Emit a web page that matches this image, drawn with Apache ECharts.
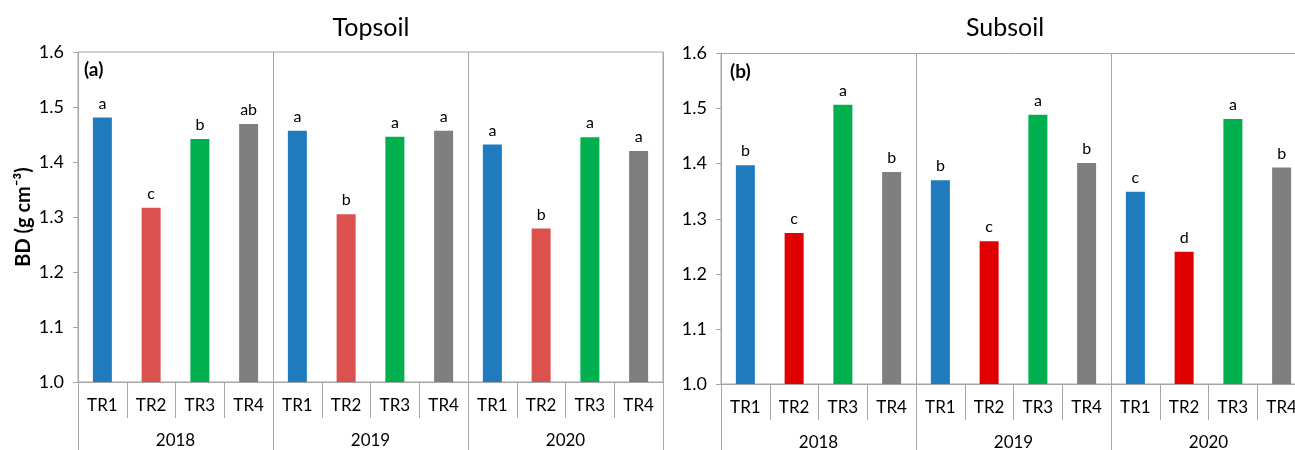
<!DOCTYPE html>
<html>
<head>
<meta charset="utf-8">
<script src="https://cdn.jsdelivr.net/npm/echarts@6/dist/echarts.min.js"></script>
<style>html,body{margin:0;padding:0;background:#fff}#c{width:1295px;height:450px}</style>
</head>
<body>
<div id="c"></div>
<script>
const treatments = ['TR1', 'TR2', 'TR3', 'TR4'];
const years = ['2018', '2019', '2020'];
const topsoil = [1.481, 1.317, 1.442, 1.469, 1.457, 1.305, 1.446, 1.457, 1.432, 1.279, 1.445, 1.420];
const subsoil = [1.397, 1.274, 1.507, 1.385, 1.370, 1.259, 1.489, 1.401, 1.349, 1.240, 1.481, 1.393];
const topLetters = ['a', 'c', 'b', 'ab', 'a', 'b', 'a', 'a', 'a', 'b', 'a', 'a'];
const subLetters = ['b', 'c', 'a', 'b', 'b', 'c', 'a', 'b', 'c', 'd', 'a', 'b'];
const yTicks = [1.0, 1.1, 1.2, 1.3, 1.4, 1.5, 1.6];

const topColors = ['#1F7BBD', '#DA514D', '#00B04F', '#7F7F7F'];
const subColors = ['#1F7BBD', '#E00000', '#00B04F', '#7F7F7F'];
const FONT = 'Lato';
const lineColor = '#A6A6A6';

const cats = [];
years.forEach(() => treatments.forEach(t => cats.push(t)));

function xAxes(grid) {
  return [
    {
      type: 'category', gridIndex: grid, data: cats, position: 'bottom',
      axisLine: {show: true, lineStyle: {color: lineColor}},
      axisTick: {show: true, length: 36, interval: 0, lineStyle: {color: lineColor}},
      axisLabel: {interval: 0, margin: 15, color: '#000', fontFamily: FONT, fontSize: 17},
      splitLine: {show: false}
    },
    {
      type: 'category', gridIndex: grid, data: years, position: 'bottom',
      axisLine: {show: false},
      axisTick: {show: true, length: 80, interval: 0, lineStyle: {color: lineColor}},
      axisLabel: {interval: 0, margin: 50, color: '#000', fontFamily: FONT, fontSize: 17},
      splitLine: {show: true, interval: 0, lineStyle: {color: lineColor}}
    }
  ];
}

function yAxis(grid, withName) {
  const a = {
    type: 'value', gridIndex: grid, min: yTicks[0], max: yTicks[yTicks.length - 1], interval: 0.1,
    axisLine: {show: true, lineStyle: {color: lineColor}},
    axisTick: {show: true, length: 5, lineStyle: {color: lineColor}},
    axisLabel: {margin: 14, color: '#000', fontFamily: FONT, fontSize: 18,
      formatter: v => v.toFixed(1)},
    splitLine: {show: false}
  };
  if (withName) {
    a.name = 'BD (g cm⁻³)';
    a.nameLocation = 'middle';
    a.nameRotate = 90;
    a.nameGap = 44;
    a.nameTextStyle = {fontFamily: FONT, fontSize: 20, fontWeight: 'bold', color: '#000'};
  }
  return a;
}

function series(grid, values, letters, colors) {
  return {
    type: 'bar', xAxisIndex: grid * 2, yAxisIndex: grid, barWidth: 19,
    data: values.map((v, i) => ({value: v, itemStyle: {color: colors[i % 4]}})),
    label: {show: true, position: 'top', distance: 6, color: '#000', fontFamily: FONT, fontSize: 16,
      formatter: p => letters[p.dataIndex]},
    emphasis: {disabled: true}
  };
}

const chart = echarts.init(document.getElementById('c'), null, {renderer: 'canvas'});
chart.setOption({
  animation: false,
  backgroundColor: '#fff',
  grid: [
    {left: 78, top: 52, width: 585, bottom: 68, show: true, borderColor: lineColor, borderWidth: 1, outerBoundsMode: 'none', containLabel: false},
    {left: 721, top: 53.5, width: 585, bottom: 66, show: true, borderColor: lineColor, borderWidth: 1, outerBoundsMode: 'none', containLabel: false}
  ],
  xAxis: xAxes(0).concat(xAxes(1)),
  yAxis: [yAxis(0, true), yAxis(1, false)],
  series: [series(0, topsoil, topLetters, topColors), series(1, subsoil, subLetters, subColors)],
  graphic: [
    {type: 'text', x: 371, y: 28, style: {text: 'Topsoil', fontFamily: FONT, fontSize: 25, fill: '#000', align: 'center', verticalAlign: 'middle'}},
    {type: 'text', x: 1005, y: 28, style: {text: 'Subsoil', fontFamily: FONT, fontSize: 25, fill: '#000', align: 'center', verticalAlign: 'middle'}},
    {type: 'text', x: 84, y: 70, style: {text: '(a)', fontFamily: FONT, fontSize: 19, fontWeight: 'bold', fill: '#000', verticalAlign: 'middle'}},
    {type: 'text', x: 730, y: 72, style: {text: '(b)', fontFamily: FONT, fontSize: 19, fontWeight: 'bold', fill: '#000', verticalAlign: 'middle'}}
  ]
});
</script>
</body>
</html>
